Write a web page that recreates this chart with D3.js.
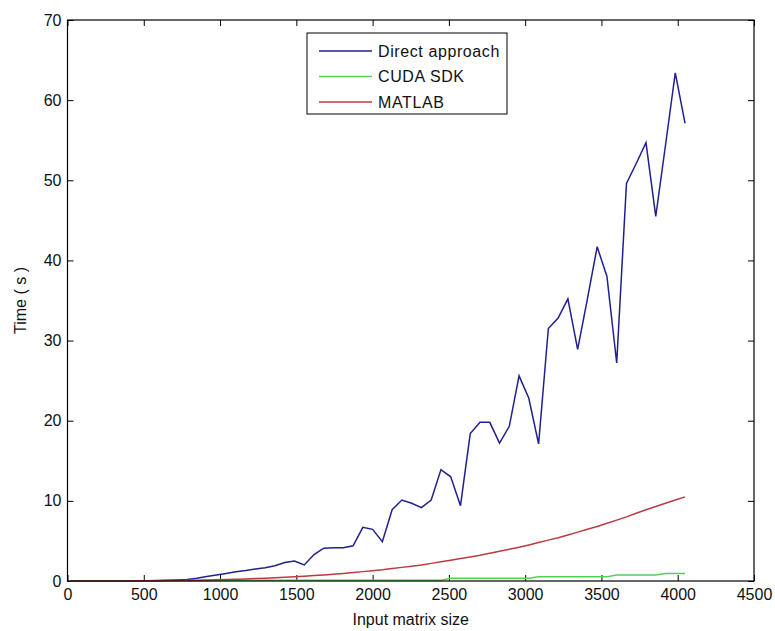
<!DOCTYPE html>
<html>
<head>
<meta charset="utf-8">
<script src="https://cdn.jsdelivr.net/npm/d3@7"></script>
<style>
  body { margin: 0; background: #fff; }
  text { font-family: 'Liberation Sans', Arial, sans-serif; fill: #111; }
</style>
</head>
<body>
<div id="chart"></div>
<script>
// matrix sizes (x values)
var sizes = [16, 80, 144, 208, 272, 336, 400, 464, 528, 592, 656, 720, 784, 848, 912, 976,
	1040, 1104, 1168, 1232, 1296, 1360, 1424, 1488, 1552, 1616, 1680, 1744, 1808, 1872, 1936, 2000,
	2064, 2128, 2192, 2256, 2320, 2384, 2448, 2512, 2576, 2640, 2704, 2768, 2832, 2896, 2960, 3024,
	3088, 3152, 3216, 3280, 3344, 3408, 3472, 3536, 3600, 3664, 3728, 3792, 3856, 3920, 3984, 4048];

var direct = [0, 0, 0, 0, 0, 0.01, 0.01, 0.02, 0.03, 0.05, 0.08, 0.12, 0.18, 0.35, 0.55, 0.75,
	0.95, 1.15, 1.3, 1.5, 1.65, 1.9, 2.3, 2.5, 2.0, 3.3, 4.1, 4.15, 4.15, 4.4, 6.7, 6.45,
	4.9, 8.9, 10.1, 9.7, 9.15, 10.1, 13.9, 13.0, 9.4, 18.4, 19.8, 19.8, 17.2, 19.3, 25.6, 22.8,
	17.1, 31.5, 32.8, 35.2, 28.9, 35.2, 41.7, 38.0, 27.2, 49.6, 52.1, 54.7, 45.5, 54.4, 63.4, 57.1];

var cuda = [0, 0, 0, 0, 0, 0, 0, 0.01, 0.01, 0.01, 0.02, 0.02, 0.03, 0.03, 0.04, 0.05,
	0.1, 0.1, 0.1, 0.1, 0.1, 0.1, 0.1, 0.1, 0.1, 0.1, 0.1, 0.1, 0.1, 0.1, 0.1, 0.1,
	0.1, 0.1, 0.1, 0.1, 0.1, 0.1, 0.1, 0.33, 0.33, 0.33, 0.33, 0.33, 0.33, 0.33, 0.33, 0.33,
	0.54, 0.54, 0.54, 0.54, 0.54, 0.54, 0.54, 0.54, 0.75, 0.75, 0.75, 0.75, 0.75, 0.95, 0.95, 0.95];

var matlab = [0, 0, 0, 0, 0, 0.01, 0.01, 0.02, 0.02, 0.03, 0.05, 0.06, 0.08, 0.1, 0.12, 0.15,
	0.18, 0.22, 0.26, 0.3, 0.35, 0.4, 0.46, 0.53, 0.6, 0.68, 0.76, 0.85, 0.95, 1.06, 1.17, 1.28,
	1.4, 1.55, 1.7, 1.85, 2.0, 2.2, 2.4, 2.6, 2.8, 3.0, 3.2, 3.45, 3.7, 3.95, 4.2, 4.5,
	4.8, 5.1, 5.4, 5.75, 6.1, 6.45, 6.8, 7.2, 7.6, 8.0, 8.45, 8.9, 9.3, 9.7, 10.1, 10.5];

var series_names = ['Direct approach', 'CUDA SDK', 'MATLAB'];
var series_colors = ['#20208f', '#55d055', '#bd3a42'];

var x_ticks = [0, 500, 1000, 1500, 2000, 2500, 3000, 3500, 4000, 4500];
var y_ticks = [0, 10, 20, 30, 40, 50, 60, 70];

var chart_width = 775;
var chart_height = 631;
var plot_left = 67.5, plot_right = 754, plot_top = 20, plot_bottom = 581;

var svg = d3.select('#chart')
	.append('svg')
	.attr('width', chart_width)
	.attr('height', chart_height);

svg.append('rect')
	.attr('width', chart_width)
	.attr('height', chart_height)
	.attr('fill', '#fff');

// scales
var x_scale = d3.scaleLinear().domain([0, 4500]).range([plot_left, plot_right]);
var y_scale = d3.scaleLinear().domain([0, 70]).range([plot_bottom, plot_top]);

// axes, ticks pointing inward like matlab
var x_axis = d3.axisBottom(x_scale).tickValues(x_ticks).tickFormat(d3.format('d'))
	.tickSizeInner(-6).tickSizeOuter(0).tickPadding(8);
var y_axis = d3.axisLeft(y_scale).tickValues(y_ticks).tickFormat(d3.format('d'))
	.tickSizeInner(-6).tickSizeOuter(0).tickPadding(6);

svg.append('g')
	.attr('transform', 'translate(0,' + plot_bottom + ')')
	.call(x_axis)
	.call(function(g){
		g.select('.domain').remove();
		g.selectAll('text').attr('font-size', 16).attr('fill', '#111');
	});

svg.append('g')
	.attr('transform', 'translate(' + plot_left + ',0)')
	.call(y_axis)
	.call(function(g){
		g.select('.domain').remove();
		g.selectAll('text').attr('font-size', 16).attr('fill', '#111');
	});

svg.append('g')
	.attr('transform', 'translate(0,' + plot_top + ')')
	.call(d3.axisTop(x_scale).tickValues(x_ticks).tickSizeInner(-6).tickSizeOuter(0).tickFormat(''))
	.call(function(g){ g.select('.domain').remove(); });

svg.append('g')
	.attr('transform', 'translate(' + plot_right + ',0)')
	.call(d3.axisRight(y_scale).tickValues(y_ticks).tickSizeInner(-6).tickSizeOuter(0).tickFormat(''))
	.call(function(g){ g.select('.domain').remove(); });

// lines
var all_series = [direct, cuda, matlab];
var line = d3.line()
	.x(function(d, i){ return x_scale(sizes[i]); })
	.y(function(d){ return y_scale(d); });

svg.selectAll('path.series')
	.data(all_series)
	.enter()
	.append('path')
	.attr('class', 'series')
	.attr('d', line)
	.attr('fill', 'none')
	.attr('stroke', function(d, i){ return series_colors[i]; })
	.attr('stroke-width', 1.5);

// box
svg.append('rect')
	.attr('x', plot_left)
	.attr('y', plot_top)
	.attr('width', plot_right - plot_left)
	.attr('height', plot_bottom - plot_top)
	.attr('fill', 'none')
	.attr('stroke', '#000')
	.attr('stroke-width', 1.2);

// axis titles
svg.append('text')
	.attr('x', (plot_left + plot_right) / 2)
	.attr('y', 625)
	.attr('text-anchor', 'middle')
	.attr('font-size', 16)
	.text('Input matrix size');

svg.append('text')
	.attr('transform', 'translate(26,' + (plot_top + plot_bottom) / 2 + ') rotate(-90)')
	.attr('text-anchor', 'middle')
	.attr('font-size', 16)
	.text('Time ( s )');

// legend
var legend = svg.append('g').attr('transform', 'translate(307,33)');
legend.append('rect')
	.attr('width', 200)
	.attr('height', 81)
	.attr('fill', '#fff')
	.attr('stroke', '#000')
	.attr('stroke-width', 1);

var rows = legend.selectAll('g.row')
	.data(series_names)
	.enter()
	.append('g')
	.attr('class', 'row')
	.attr('transform', function(d, i){ return 'translate(0,' + (18 + i * 25.5) + ')'; });

rows.append('line')
	.attr('x1', 12).attr('x2', 65)
	.attr('stroke', function(d, i){ return series_colors[i]; })
	.attr('stroke-width', 1.5);

rows.append('text')
	.attr('x', 71)
	.attr('dy', '0.35em')
	.attr('font-size', 16)
	.attr('letter-spacing', 0.6)
	.text(function(d){ return d; });
</script>
</body>
</html>
